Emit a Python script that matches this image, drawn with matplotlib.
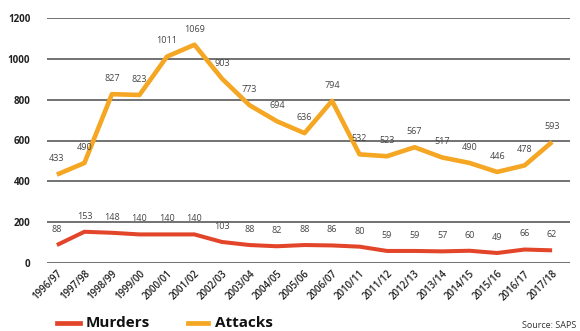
import matplotlib
matplotlib.use("Agg")
import matplotlib.pyplot as plt

categories = ["1996/97", "1997/98", "1998/99", "1999/00", "2000/01", "2001/02",
              "2002/03", "2003/04", "2004/05", "2005/06", "2006/07", "2010/11",
              "2011/12", "2012/13", "2013/14", "2014/15", "2015/16", "2016/17", "2017/18"]
attacks = [433, 490, 827, 823, 1011, 1069, 903, 773, 694, 636, 794, 532, 523, 567, 517, 490, 446, 478, 593]
murders = [88, 153, 148, 140, 140, 140, 103, 88, 82, 88, 86, 80, 59, 59, 57, 60, 49, 66, 62]
yticks = [0, 200, 400, 600, 800, 1000, 1200]

ORANGE = "#F5A623"
RED = "#E2452A"
GRID = "#5a5a5a"
FONT = "Open Sans"

fig = plt.figure(figsize=(5.8, 3.31), dpi=100)
ax = fig.add_axes([47/580, 1 - 263/331, (570-47)/580, (263-18)/331])

x = list(range(len(categories)))
for yv in yticks:
    ax.axhline(yv, color=GRID, lw=1.2, zorder=1)

ax.plot(x, attacks, color=ORANGE, lw=3.3, solid_joinstyle="round", solid_capstyle="butt", zorder=3)
ax.plot(x, murders, color=RED, lw=2.9, solid_joinstyle="round", solid_capstyle="butt", zorder=3)

for xi, v in zip(x, attacks):
    ax.annotate(str(v), (xi, v), xytext=(0, 8), textcoords="offset points",
                ha="center", va="bottom", fontsize=6.5, color="#444444", family=FONT)
for xi, v in zip(x, murders):
    ax.annotate(str(v), (xi, v), xytext=(0, 8), textcoords="offset points",
                ha="center", va="bottom", fontsize=6.5, color="#444444", family=FONT)

ax.set_xlim(-0.36, 18.65)
ax.set_ylim(0, 1200)
ax.set_yticks(yticks)
ax.set_yticklabels([str(v) for v in yticks], fontsize=7, fontweight="bold", family=FONT, color="#222222")
ax.set_xticks(x)
ax.set_xticklabels(categories, rotation=45, ha="right", rotation_mode="anchor",
                   fontsize=7, fontweight="semibold", family=FONT, color="#222222")
ax.tick_params(axis="both", length=0, pad=4)
ax.tick_params(axis="y", pad=12)
for s in ax.spines.values():
    s.set_visible(False)

# legend
ly = 1 - 323/331
fig.add_artist(plt.Line2D([57/580, 80/580], [ly, ly], color=RED, lw=3.4, transform=fig.transFigure))
fig.text(86/580, ly, "Murders", fontsize=11, fontweight="bold", family=FONT, va="center", color="#111111")
fig.add_artist(plt.Line2D([188/580, 208/580], [ly, ly], color=ORANGE, lw=3.4, transform=fig.transFigure))
fig.text(215/580, ly, "Attacks", fontsize=11, fontweight="bold", family=FONT, va="center", color="#111111")
fig.text(576/580, 1-326/331, "Source: SAPS", fontsize=6.5, family=FONT, ha="right", va="center", color="#333333")

fig.savefig("out.png", dpi=100)
